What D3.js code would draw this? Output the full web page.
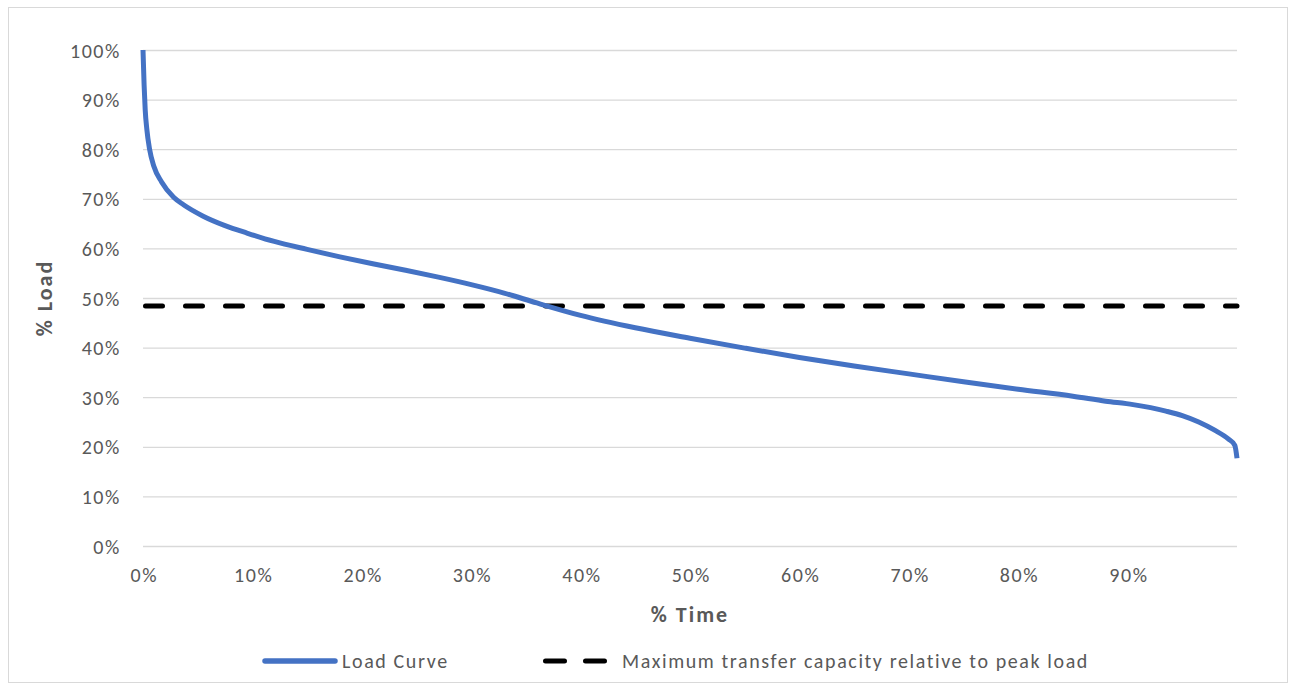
<!DOCTYPE html>
<html>
<head>
<meta charset="utf-8">
<script src="https://cdn.jsdelivr.net/npm/d3@7"></script>
<style>
  html, body { margin: 0; padding: 0; background: #fff; }
  svg { display: block; }
  text { font-family: Carlito, Calibri, Lato, "Open Sans", sans-serif; }
</style>
</head>
<body>
<svg id="chart" width="1295" height="690"></svg>
<script>
// ---- data ----
const timePct = [0, 0.1, 0.2, 0.35, 0.6, 1.0, 1.7, 2.8, 3.7, 5.5, 7.5, 9.5, 12, 15, 18, 21, 24, 27, 30, 33, 36, 40, 45, 50, 55, 60, 65, 70, 75, 80, 85, 88, 90.5, 93.5, 95, 96.5, 98, 99.2, 99.8, 100];
const loadPct = [100, 93, 88, 84, 80, 76.5, 73.4, 70.3, 68.8, 66.5, 64.6, 63.1, 61.4, 59.8, 58.3, 56.9, 55.6, 54.2, 52.7, 51.0, 49.0, 46.5, 44.0, 41.9, 39.9, 38.0, 36.3, 34.7, 33.1, 31.6, 30.2, 29.2, 28.5, 27.2, 26.3, 25.0, 23.3, 21.6, 20.3, 17.7];
const capacityPct = 48.4;
const yTicks = [0, 10, 20, 30, 40, 50, 60, 70, 80, 90, 100];
const xTicks = [0, 10, 20, 30, 40, 50, 60, 70, 80, 90];
const seriesNames = ["Load Curve", "Maximum transfer capacity relative to peak load"];
const xTitle = "% Time";
const yTitle = "% Load";

// ---- layout ----
const svg = d3.select("#chart");
const plot = { left: 143, right: 1237, top: 50, bottom: 546 };
const blue = "#4472C4";
const textGray = "#595959";
const gridGray = "#d9d9d9";
const ls = 1.6;

svg.append("rect")
  .attr("x", 8.5).attr("y", 7.5).attr("width", 1279).attr("height", 675)
  .attr("fill", "#fff").attr("stroke", gridGray).attr("stroke-width", 1);

const x = d3.scaleLinear().domain([0, 100]).range([plot.left, plot.right]);
const y = d3.scaleLinear().domain([0, 100]).range([plot.bottom, plot.top]);

// gridlines + y labels
const yAxis = d3.axisLeft(y).tickValues(yTicks)
  .tickSize(-(plot.right - plot.left)).tickPadding(22)
  .tickFormat(d => d + "%");
const gy = svg.append("g").attr("transform", `translate(${plot.left},0)`).call(yAxis);
gy.select(".domain").remove();
gy.selectAll(".tick line").attr("stroke", gridGray).attr("stroke-width", 1.3);
gy.selectAll(".tick text").attr("fill", textGray).attr("font-size", 20)
  .attr("letter-spacing", ls).attr("dy", "0.35em");

// x labels
const xAxis = d3.axisBottom(x).tickValues(xTicks).tickSize(0).tickPadding(22)
  .tickFormat(d => d + "%");
const gx = svg.append("g").attr("transform", `translate(0,${plot.bottom})`).call(xAxis);
gx.select(".domain").remove();
gx.selectAll(".tick text").attr("fill", textGray).attr("font-size", 20)
  .attr("letter-spacing", ls).attr("dx", ls / 2);

// axis titles
svg.append("text").attr("x", (plot.left + plot.right) / 2).attr("y", 622)
  .attr("text-anchor", "middle").attr("font-size", 22).attr("font-weight", "bold")
  .attr("letter-spacing", 2).attr("fill", textGray).text(xTitle);
svg.append("text")
  .attr("transform", `translate(52,${(plot.top + plot.bottom) / 2}) rotate(-90)`)
  .attr("text-anchor", "middle").attr("font-size", 22).attr("font-weight", "bold")
  .attr("letter-spacing", 2).attr("fill", textGray).text(yTitle);

// capacity line
svg.append("line")
  .attr("x1", x(0) + 2.5).attr("x2", x(100))
  .attr("y1", y(capacityPct)).attr("y2", y(capacityPct))
  .attr("stroke", "#000").attr("stroke-width", 5)
  .attr("stroke-linecap", "round").attr("stroke-dasharray", "17,23");

// load curve
const data = timePct.map((t, i) => ({ t, v: loadPct[i] }));
const line = d3.line().x(d => x(d.t)).y(d => y(d.v)).curve(d3.curveMonotoneX);
svg.append("path").datum(data).attr("d", line)
  .attr("fill", "none").attr("stroke", blue).attr("stroke-width", 5)
  .attr("stroke-linejoin", "round");

// legend
const ly = 661;
svg.append("line").attr("x1", 265).attr("x2", 335).attr("y1", ly).attr("y2", ly)
  .attr("stroke", blue).attr("stroke-width", 5.5).attr("stroke-linecap", "round");
svg.append("text").attr("x", 342).attr("y", ly).attr("dy", "0.35em")
  .attr("font-size", 20).attr("letter-spacing", ls).attr("fill", textGray).text(seriesNames[0]);
svg.append("line").attr("x1", 545.5).attr("x2", 606).attr("y1", ly).attr("y2", ly)
  .attr("stroke", "#000").attr("stroke-width", 5)
  .attr("stroke-linecap", "round").attr("stroke-dasharray", "19,21");
svg.append("text").attr("x", 622).attr("y", ly).attr("dy", "0.35em")
  .attr("font-size", 20).attr("letter-spacing", ls).attr("fill", textGray).text(seriesNames[1]);
</script>
</body>
</html>
